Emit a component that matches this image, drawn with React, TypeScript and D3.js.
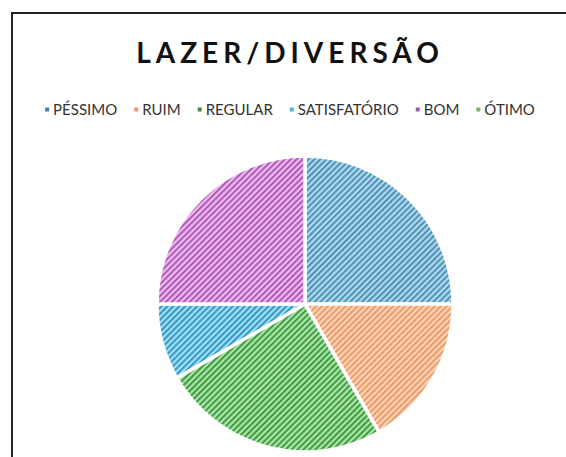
import React, { useEffect, useRef } from 'react';
import * as d3 from 'd3';

const categories = ['PÉSSIMO', 'RUIM', 'REGULAR', 'SATISFATÓRIO', 'BOM', 'ÓTIMO'];
const values = [6, 4, 6, 2, 6, 0];
const lightColors = ['#b0d9ee', '#fdd5b8', '#ade6aa', '#a3e0f6', '#f3b8f3', '#c0e8b0'];
const stripeColors = ['#4f90b5', '#ec9a68', '#3f9a42', '#3398c4', '#a95cb2', '#70b060'];
const markerColors = ['#4f81a8', '#e8956a', '#3c8c3c', '#4fb8c6', '#9b5aa8', '#79b86a'];
const title = 'LAZER/DIVERSÃO';

const W = 566;
const H = 457;

const App = () => {
  const svgRef = useRef<SVGSVGElement>(null);

  useEffect(() => {
    if (!svgRef.current) return;
    const svg = d3.select(svgRef.current);
    svg.selectAll('*').remove();

    const defs = svg.append('defs');
    categories.forEach((c, i) => {
      const p = defs.append('pattern')
        .attr('id', 'hatch' + i)
        .attr('patternUnits', 'userSpaceOnUse')
        .attr('width', 4.2)
        .attr('height', 4.2)
        .attr('patternTransform', 'rotate(45)');
      p.append('rect').attr('width', 4.2).attr('height', 4.2).attr('fill', lightColors[i]);
      p.append('rect').attr('width', 2).attr('height', 4.2).attr('fill', stripeColors[i]);
    });

    // frame
    svg.append('rect')
      .attr('x', 12).attr('y', 13)
      .attr('width', W).attr('height', H)
      .attr('fill', 'white')
      .attr('stroke', '#222')
      .attr('stroke-width', 2);

    svg.append('text')
      .attr('x', 290)
      .attr('y', 63)
      .attr('text-anchor', 'middle')
      .style('font-family', 'Lato, sans-serif')
      .style('font-weight', 700)
      .style('font-size', '28px')
      .style('letter-spacing', '5px')
      .attr('fill', '#111')
      .text(title);

    // legend
    const gap = 17;
    const legend = svg.append('g');
    let x = 0;
    categories.forEach((c, i) => {
      const g = legend.append('g').attr('transform', `translate(${x},0)`);
      g.append('rect').attr('x', 0).attr('y', -2.5).attr('width', 4).attr('height', 4).attr('fill', markerColors[i]);
      const t = g.append('text')
        .attr('x', 8).attr('y', 0)
        .attr('dy', '0.35em')
        .style('font-family', 'Lato, sans-serif')
        .style('font-size', '15px')
        .attr('fill', '#333')
        .text(c);
      const w = (t.node() as SVGTextElement).getComputedTextLength();
      x += 8 + w + gap;
    });
    const total = x - gap;
    legend.attr('transform', `translate(${290 - total / 2},110)`);

    // pie
    const cx = 305, cy = 304, r = 148;
    const pie = d3.pie<number>().sort(null).value((d) => d);
    const arcs = pie(values);
    const arc = d3.arc<d3.PieArcDatum<number>>().innerRadius(0).outerRadius(r);
    svg.append('g')
      .attr('transform', `translate(${cx},${cy})`)
      .selectAll('path')
      .data(arcs.filter((a) => a.value > 0))
      .join('path')
      .attr('d', arc)
      .attr('fill', (d) => `url(#hatch${d.index})`)
      .attr('stroke', 'white')
      .attr('stroke-width', 3.5);
  }, []);

  return (
    <svg ref={svgRef} width={W} height={H} style={{ position: 'absolute', left: 0, top: 0 }} />
  );
};

export default App;
